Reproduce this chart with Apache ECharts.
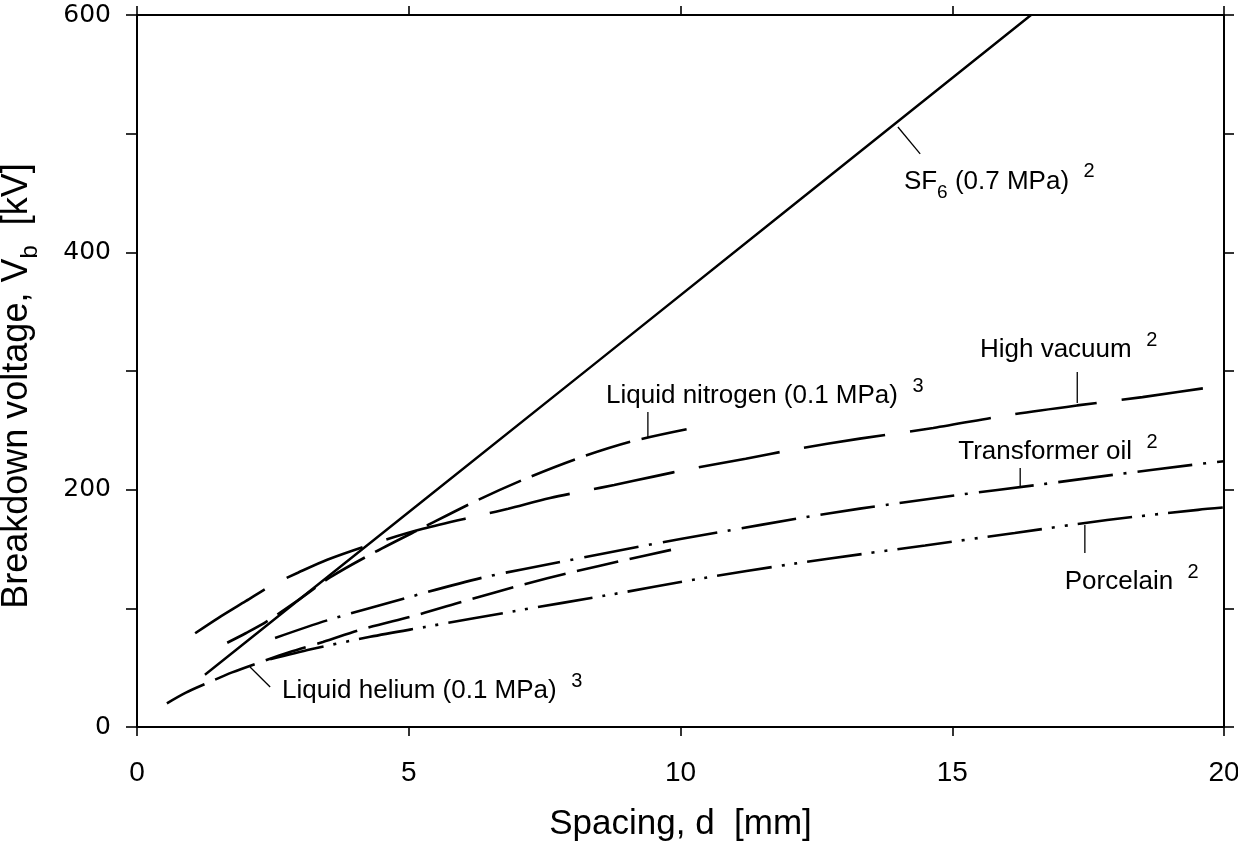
<!DOCTYPE html>
<html>
<head>
<meta charset="utf-8">
<script src="https://cdn.jsdelivr.net/npm/echarts@6/dist/echarts.min.js"></script>
<style>
html,body{margin:0;padding:0;background:#fff;}
#chart{width:1238px;height:843px;}
</style>
</head>
<body>
<div id="chart"></div>
<script>
// ---- data ----
const xTickLabels = ['0', '5', '10', '15', '20'];
const yTickLabels = ['0', '200', '400', '600'];

const sf6Data = [[1.25, 44], [8.5, 309], [16.45, 600]];
const highVacuumData = [[1.07, 79], [1.5, 92], [2.0, 106], [2.5, 120], [2.96, 130], [3.5, 141], [4.38, 155], [5.26, 167],
  [6.37, 179], [6.83, 184], [7.6, 193], [8.3, 199.5], [8.78, 204], [9.5, 211], [10.23, 218], [11.2, 226], [12.1, 234],
  [13.3, 243], [14.65, 252], [16.06, 263], [17.3, 271], [18.5, 278], [20, 288]];
const liquidNitrogenData = [[1.66, 71], [2.0, 79], [2.39, 89], [3.0, 108], [3.55, 126], [4.32, 146], [5.26, 168],
  [6.26, 191], [7.19, 210], [8.15, 227], [9.13, 241], [10.12, 251]];
const transformerOilData = [[2.54, 75], [3.51, 90], [4.97, 109], [6.37, 126], [7.84, 139.5], [9.29, 152.5],
  [10.76, 164.5], [12.2, 176], [13.3, 184], [15.1, 195.5], [16.56, 204], [17.96, 212.5], [19.43, 221], [20, 224]];
const porcelainData = [[2.45, 57], [3.2, 65.5], [4.29, 76], [5.3, 84.3], [6.99, 98], [8.67, 111.2], [10.36, 125],
  [12.07, 137.5], [13.3, 145.5], [14.5, 153], [16.15, 163.5], [17.85, 174.4], [19.52, 183], [20, 185]];
const liquidHeliumData = [[0.55, 20], [0.9, 29], [1.29, 37], [1.75, 46], [2.23, 54], [2.8, 63], [3.42, 71.6],
  [4.16, 82.6], [5.15, 94.4], [6.09, 107], [7.08, 119.7], [8.02, 130.6], [8.98, 140.7], [9.9, 150]];

// annotation texts
const labelTexts = [
  {main: 'SF', sub: '6', rest: ' (0.7 MPa)', sup: '2'},
  {main: 'Liquid nitrogen (0.1 MPa)', sup: '3'},
  {main: 'High vacuum', sup: '2'},
  {main: 'Transformer oil', sup: '2'},
  {main: 'Porcelain', sup: '2'},
  {main: 'Liquid helium (0.1 MPa)', sup: '3'}
];
// annotation anchors (data coordinates: left edge, vertical middle)
const labelAnchors = [[14.11, 459.3], [8.63, 278.9], [15.51, 317.7], [15.11, 231.7], [17.07, 122.2], [2.67, 30.3]];
// leader lines (data coordinates)
const leaderLines = [
  [[14.0, 505.6], [14.41, 482.9]],
  [[9.4, 265.4], [9.4, 244.4]],
  [[17.3, 299.2], [17.3, 273]],
  [[16.25, 218.3], [16.25, 202.2]],
  [[17.44, 170.2], [17.44, 146.6]],
  [[2.08, 50.6], [2.45, 33.7]]
];

// ---- chart ----
const FONT = "'Liberation Sans', Arial, Helvetica, sans-serif";
const chart = echarts.init(document.getElementById('chart'), null, {renderer: 'canvas'});

function curve(name, data, dash, width) {
  return {
    name: name, type: 'line', data: data, showSymbol: false, symbol: 'none',
    smooth: 0.3, silent: true, clip: true,
    lineStyle: {color: '#000', width: width || 2.6, type: dash, cap: 'butt'}
  };
}

const series = [
  curve('SF6', sf6Data, 'solid', 2.4),
  curve('High vacuum', highVacuumData, [82, 25]),
  curve('Liquid nitrogen', liquidNitrogenData, [46, 12]),
  curve('Transformer oil', transformerOilData, [55, 11, 3, 11]),
  curve('Porcelain', porcelainData, [55, 10, 3, 10, 3, 10]),
  curve('Liquid helium', liquidHeliumData, [42, 12])
];
leaderLines.forEach(function (seg, i) {
  series.push({
    name: 'leader' + i, type: 'line', data: seg, showSymbol: false, symbol: 'none', silent: true,
    lineStyle: {color: '#000', width: 1.3}
  });
});

const axisLineStyle = {show: true, onZero: false, lineStyle: {color: '#000', width: 2}};
const tickStyle = {lineStyle: {color: '#000', width: 1.6}};

chart.setOption({
  animation: false,
  backgroundColor: '#fff',
  grid: {left: 137, right: 14, top: 15, bottom: 116, containLabel: false, outerBoundsMode: 'none'},
  xAxis: [{
    type: 'value', position: 'bottom', min: 0, max: 20, interval: 5,
    axisLine: axisLineStyle,
    axisTick: Object.assign({show: true, inside: false, length: 9}, tickStyle),
    axisLabel: {
      show: true, margin: 32, fontSize: 28, color: '#000', fontFamily: FONT,
      formatter: function (v) { const s = String(v); return xTickLabels.indexOf(s) >= 0 ? s : ''; }
    },
    splitLine: {show: false},
    name: 'Spacing, d  [mm]', nameLocation: 'middle', nameGap: 80,
    nameTextStyle: {fontSize: 35, color: '#000', fontFamily: FONT}
  }, {
    type: 'value', position: 'top', min: 0, max: 20, interval: 5,
    axisLine: axisLineStyle,
    axisTick: Object.assign({show: true, inside: false, length: 9}, tickStyle),
    axisLabel: {show: false}, splitLine: {show: false}
  }],
  yAxis: [{
    type: 'value', position: 'left', min: 0, max: 600, interval: 100,
    axisLine: axisLineStyle,
    axisTick: Object.assign({show: true, inside: false, length: 11}, tickStyle),
    axisLabel: {
      show: true, margin: 26, fontSize: 25, color: '#000', fontFamily: "'DejaVu Sans', sans-serif",
      formatter: function (v) { const s = String(v); return yTickLabels.indexOf(s) >= 0 ? s : ''; }
    },
    splitLine: {show: false},
    name: '{a|Breakdown voltage, V}{b|b}{a|  [kV]}', nameLocation: 'middle', nameGap: 95, nameRotate: 90,
    nameTextStyle: {
      color: '#000', fontFamily: FONT, padding: [0, 30, 0, 0],
      rich: {
        a: {fontSize: 36, lineHeight: 50, color: '#000', fontFamily: FONT, verticalAlign: 'middle'},
        b: {fontSize: 24, lineHeight: 24, color: '#000', fontFamily: FONT, verticalAlign: 'bottom'}
      }
    }
  }, {
    type: 'value', position: 'right', min: 0, max: 600, interval: 100,
    axisLine: axisLineStyle,
    axisTick: Object.assign({show: true, inside: false, length: 10}, tickStyle),
    axisLabel: {show: false}, splitLine: {show: false}
  }],
  series: series
});

// annotations placed through the chart's own coordinate conversion
const richStyles = {
  n: {fontSize: 26, lineHeight: 40, fill: '#000', fontFamily: FONT, verticalAlign: 'middle'},
  s: {fontSize: 19, lineHeight: 19, fill: '#000', fontFamily: FONT, verticalAlign: 'bottom'},
  p: {fontSize: 20, lineHeight: 20, fill: '#000', fontFamily: FONT, verticalAlign: 'top'}
};
const graphics = labelTexts.map(function (t, i) {
  const pt = chart.convertToPixel({gridIndex: 0}, labelAnchors[i]);
  let txt = '{n|' + t.main + '}';
  if (t.sub) txt += '{s|' + t.sub + '}';
  if (t.rest) txt += '{n|' + t.rest + '}';
  txt += '{n|  }{p|' + t.sup + '}';
  return {
    type: 'text', x: pt[0], y: pt[1], silent: true, z: 100,
    style: {text: txt, rich: richStyles, align: 'left', verticalAlign: 'middle', fill: '#000', font: '26px ' + FONT}
  };
});
chart.setOption({graphic: graphics});
</script>
</body>
</html>
